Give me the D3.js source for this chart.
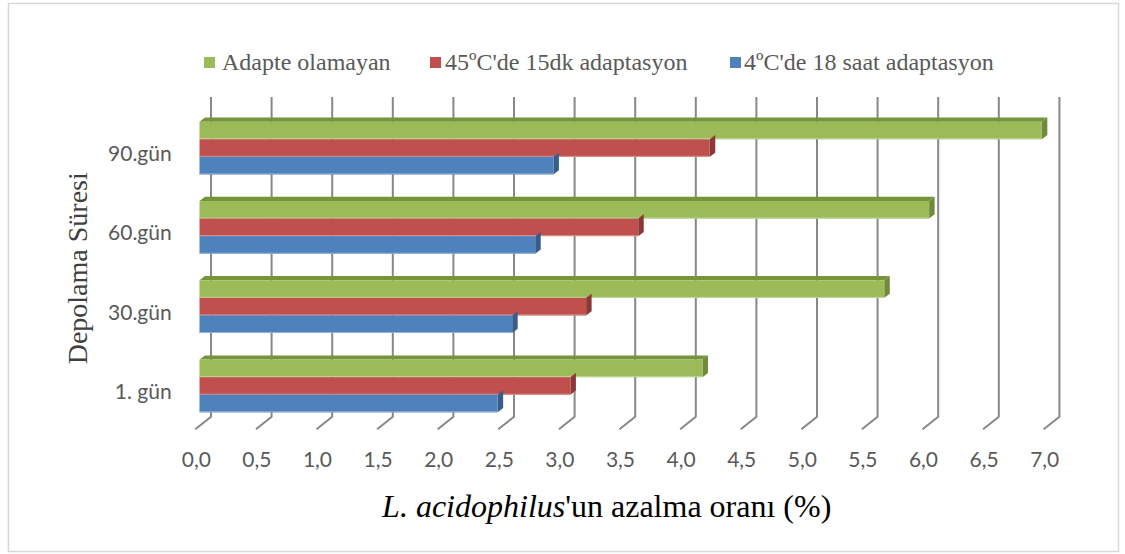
<!DOCTYPE html>
<html>
<head>
<meta charset="utf-8">
<script src="https://cdn.jsdelivr.net/npm/d3@7"></script>
<style>
  html, body { margin: 0; padding: 0; background: #fff; }
  svg { display: block; }
</style>
</head>
<body>
<svg id="chart" width="1125" height="554"></svg>
<script>
// Storage periods (top to bottom as drawn)
const categories = ["90.gün", "60.gün", "30.gün", "1. gün"];

// Series, in legend order
const seriesNames = ["Adapte olamayan", "45ºC'de 15dk adaptasyon", "4ºC'de 18 saat adaptasyon"];

// Reduction rate (%) per storage period, same order as categories
const adapteOlamayan = [6.95, 6.02, 5.65, 4.15];
const adaptasyon45C  = [4.21, 3.62, 3.19, 3.06];
const adaptasyon4C   = [2.92, 2.77, 2.58, 2.46];

const xTicks = [0, 0.5, 1, 1.5, 2, 2.5, 3, 3.5, 4, 4.5, 5, 5.5, 6, 6.5, 7];

const seriesValues = [adapteOlamayan, adaptasyon45C, adaptasyon4C];
const fronts = ["#9BBB59", "#C0504D", "#4F81BD"];
const sides  = ["#6F8A3A", "#8C3836", "#385D8A"];
const tops   = ["#77933C", "#A04340", "#426C9E"];
const edges  = ["#C3D69B", "#DA9694", "#95B3D7"];

const svg = d3.select("#chart");

// chart frame
svg.append("rect")
  .attr("x", 8.5).attr("y", 3.5).attr("width", 1110).attr("height", 548)
  .attr("fill", "#fff").attr("stroke", "#d9d9d9").attr("stroke-width", 1.5);

// value scale (width per unit is shared by all depth planes)
const x = d3.scaleLinear().domain([0, 7]).range([0, 848.4]);
const backX0 = 211;      // back wall origin
const floorX0 = 195.3;   // front edge of the floor
const barX0 = 199.5;     // front face of the bars
const wallTop = 97, wallBottom = 416.7, floorFrontY = 429.3;
const barDX = 5.5, barDY = -4.2;

// category bands (front face of the bars)
const y = d3.scaleBand().domain(categories).range([108.4, 425.6])
  .paddingInner(0.335).paddingOuter(0.1675);
const ySub = d3.scaleBand().domain(seriesNames).range([0, y.bandwidth()]);

// back-wall gridlines and floor lines
const grid = svg.append("g").attr("stroke", "#888").attr("stroke-width", 2).attr("fill", "none");
xTicks.forEach(t => {
  const xb = backX0 + x(t), xf = floorX0 + x(t);
  grid.append("path").attr("d", `M${xb},${wallTop}L${xb},${wallBottom}L${xf},${floorFrontY}`);
});

// bars
const bars = svg.append("g");
categories.forEach((c, ci) => {
  seriesNames.forEach((s, si) => {
    const v = seriesValues[si][ci];
    const x0 = barX0, x1 = barX0 + x(v);
    const y0 = y(c) + ySub(s), y1 = y0 + ySub.bandwidth();
    // top face (only visible on the first bar of each group)
    if (si === 0) {
      bars.append("path")
        .attr("d", `M${x0},${y0}L${x1},${y0}L${x1 + barDX},${y0 + barDY}L${x0 + barDX},${y0 + barDY}Z`)
        .attr("fill", tops[si]);
    }
    // right end face
    bars.append("path")
      .attr("d", `M${x1},${y0}L${x1 + barDX},${y0 + barDY}L${x1 + barDX},${y1 + barDY}L${x1},${y1}Z`)
      .attr("fill", sides[si]);
    // front face
    bars.append("rect")
      .attr("x", x0).attr("y", y0).attr("width", x1 - x0).attr("height", y1 - y0)
      .attr("fill", fronts[si]);
    bars.append("line")
      .attr("x1", x0).attr("x2", x1).attr("y1", y1 - 0.5).attr("y2", y1 - 0.5)
      .attr("stroke", edges[si]).attr("stroke-width", 1);
  });
});

// category labels
svg.append("g").selectAll("text").data(categories).join("text")
  .attr("x", 171.7).attr("y", d => y(d) + y.bandwidth() / 2 + 13)
  .attr("text-anchor", "end")
  .attr("font-family", "Lato, 'Open Sans', sans-serif").attr("font-size", 21)
  .attr("fill", "#595959")
  .text(d => d);

// value tick labels along the floor front
const fmt = d => d.toFixed(1).replace(".", ",");
svg.append("g").selectAll("text").data(xTicks).join("text")
  .attr("x", d => floorX0 + x(d) + 1).attr("y", 467.3)
  .attr("text-anchor", "middle")
  .attr("font-family", "Lato, 'Open Sans', sans-serif").attr("font-size", 21)
  .attr("fill", "#595959")
  .text(fmt);

// legend
const legendPos = [{sx: 204, tx: 222}, {sx: 430, tx: 445}, {sx: 730, tx: 744}];
const legend = svg.append("g");
seriesNames.forEach((s, i) => {
  legend.append("rect").attr("x", legendPos[i].sx).attr("y", 57).attr("width", 11).attr("height", 11)
    .attr("fill", fronts[i]);
  legend.append("text").attr("x", legendPos[i].tx).attr("y", 70)
    .attr("font-family", "'Liberation Serif', 'Times New Roman', serif").attr("font-size", 24)
    .attr("fill", "#595959").text(s);
});

// axis titles
const xt = svg.append("text").attr("x", 606.7).attr("y", 517)
  .attr("text-anchor", "middle")
  .attr("font-family", "'Liberation Serif', 'Times New Roman', serif").attr("font-size", 32)
  .attr("fill", "#000");
xt.append("tspan").attr("font-style", "italic").text("L. acidophilus");
xt.append("tspan").text("'un azalma oranı (%)");

svg.append("text")
  .attr("transform", "translate(87,268.3) rotate(-90)")
  .attr("text-anchor", "middle")
  .attr("font-family", "'Liberation Serif', 'Times New Roman', serif").attr("font-size", 28)
  .attr("fill", "#404040")
  .text("Depolama Süresi");
</script>
</body>
</html>
